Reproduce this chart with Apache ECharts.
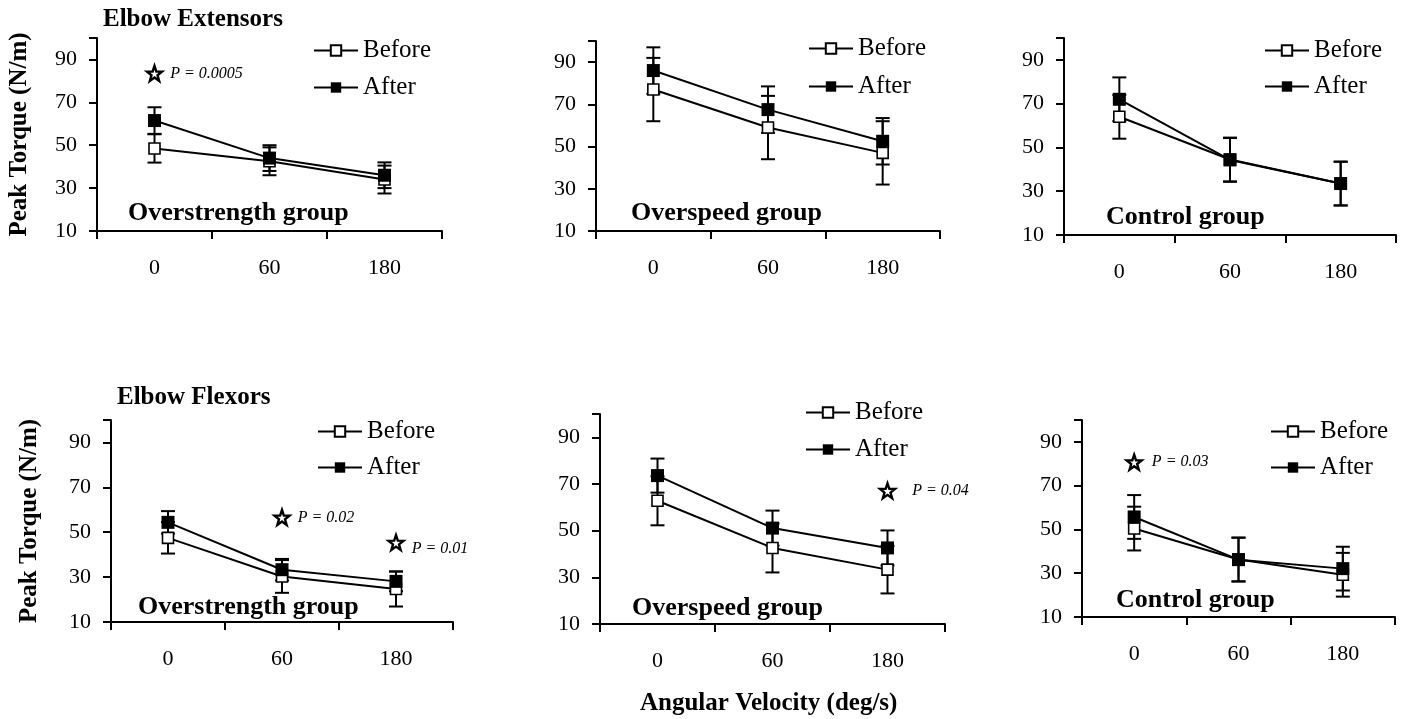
<!DOCTYPE html>
<html>
<head>
<meta charset="utf-8">
<script src="https://cdn.jsdelivr.net/npm/echarts@6/dist/echarts.min.js"></script>
<style>
html, body { margin: 0; padding: 0; background: #fff; }
#chart { width: 1406px; height: 719px; }
</style>
</head>
<body>
<div id="chart"></div>
<script>
var categories = ['0', '60', '180'];
var yTicks = [10, 30, 50, 70, 90];

// peak torque (N/m), mean and sd, per panel
var extStrBefore = [48.5, 42.5, 34], extStrBeforeSd = [6.6, 6.5, 6.5];
var extStrAfter = [61.5, 44, 36], extStrAfterSd = [6.2, 6, 6];
var extSpdBefore = [77, 59, 47], extSpdBeforeSd = [15, 15, 15];
var extSpdAfter = [86, 67.5, 52.5], extSpdAfterSd = [11, 11, 11];
var extCtlBefore = [64, 44.5, 33.5], extCtlBeforeSd = [10, 10, 10];
var extCtlAfter = [72, 44.3, 33.5], extCtlAfterSd = [10, 10, 10];
var flxStrBefore = [47.5, 30.3, 24.7], flxStrBeforeSd = [7, 7.3, 7.8];
var flxStrAfter = [54.4, 33.3, 28.1], flxStrAfterSd = [5, 4.8, 4.4];
var flxSpdBefore = [62.8, 42.6, 33.3], flxSpdBeforeSd = [10.5, 10.5, 10.2];
var flxSpdAfter = [73.6, 51.1, 42.6], flxSpdAfterSd = [7.3, 7.5, 7.5];
var flxCtlBefore = [50.4, 36.3, 29.3], flxCtlBeforeSd = [10, 10, 10];
var flxCtlAfter = [55.7, 36.2, 32.1], flxCtlAfterSd = [10, 10, 10];

var groupNames = ['Overstrength group', 'Overspeed group', 'Control group',
    'Overstrength group', 'Overspeed group', 'Control group'];

// significance notes: panel, category index, value, text
var notePanels = [0, 3, 3, 4, 5];
var noteCats = [0, 1, 2, 2, 0];
var noteValues = [83.5, 56.6, 45.4, 67.1, 80.7];
var noteTexts = ['P = 0.0005', 'P = 0.02', 'P = 0.01', 'P = 0.04', 'P = 0.03'];

var panels = [
    { before: extStrBefore, beforeSd: extStrBeforeSd, after: extStrAfter, afterSd: extStrAfterSd },
    { before: extSpdBefore, beforeSd: extSpdBeforeSd, after: extSpdAfter, afterSd: extSpdAfterSd },
    { before: extCtlBefore, beforeSd: extCtlBeforeSd, after: extCtlAfter, afterSd: extCtlAfterSd },
    { before: flxStrBefore, beforeSd: flxStrBeforeSd, after: flxStrAfter, afterSd: flxStrAfterSd },
    { before: flxSpdBefore, beforeSd: flxSpdBeforeSd, after: flxSpdAfter, afterSd: flxSpdAfterSd },
    { before: flxCtlBefore, beforeSd: flxCtlBeforeSd, after: flxCtlAfter, afterSd: flxCtlAfterSd }
];

// layout (pixels)
var grids = [
    { left: 97, top: 38, width: 345, height: 193 },
    { left: 596, top: 41, width: 344, height: 190 },
    { left: 1064, top: 38, width: 332, height: 197 },
    { left: 111, top: 420, width: 342, height: 202 },
    { left: 600, top: 414, width: 345, height: 210 },
    { left: 1082, top: 420, width: 313, height: 197 }
];
var legendPos = [[313, 38, 12], [808, 36, 13], [1264, 38, 11], [317, 419, 11], [805, 400, 12], [1270, 419, 11]];
var groupPos = [[128, 200], [631, 200], [1106, 204], [138, 594], [632, 595], [1116, 587]];
var noteLabel = [[7, [0, 0]], [7, [0, 0]], [7, [0, 6]], [16, [0, 0]], [9, [0, 0]]];

var FONT = '"Liberation Serif", "Times New Roman", serif';
var STAR = 'path://M50 0 L61.76 33.82 L97.55 34.55 L69.02 56.18 L79.39 90.45 L50 70 L20.61 90.45 L30.98 56.18 L2.45 34.55 L38.24 33.82 Z';

function errData( vals, sd ) {
    var out = [];
    for ( var i = 0; i < vals.length; i++ ) {
        out.push( [i, vals[i] - sd[i], vals[i] + sd[i]] );
    }
    return out;
}

function renderErr( params, api ) {
    var x = api.value( 0 );
    var lo = api.coord( [x, api.value( 1 )] );
    var hi = api.coord( [x, api.value( 2 )] );
    var w = 7;
    var st = { stroke: '#000', lineWidth: 2 };
    return {
        type: 'group',
        children: [
            { type: 'line', shape: { x1: lo[0], y1: lo[1], x2: hi[0], y2: hi[1] }, style: st },
            { type: 'line', shape: { x1: lo[0] - w, y1: lo[1], x2: lo[0] + w, y2: lo[1] }, style: st },
            { type: 'line', shape: { x1: hi[0] - w, y1: hi[1], x2: hi[0] + w, y2: hi[1] }, style: st }
        ]
    };
}

var option = {
    backgroundColor: '#fff',
    animation: false,
    textStyle: { fontFamily: FONT, color: '#000' },
    grid: [],
    xAxis: [],
    yAxis: [],
    legend: [],
    title: [],
    series: []
};

for ( var p = 0; p < panels.length; p++ ) {
    var g = grids[p];
    option.grid.push( { left: g.left, top: g.top, width: g.width, height: g.height, containLabel: false, outerBoundsMode: 'none' } );
    option.xAxis.push( {
        type: 'category',
        gridIndex: p,
        data: categories,
        boundaryGap: true,
        axisLine: { lineStyle: { color: '#000', width: 2 } },
        axisTick: { show: true, length: 8, lineStyle: { color: '#000', width: 2 } },
        axisLabel: { color: '#000', fontFamily: FONT, fontSize: 22, margin: 26 },
        splitLine: { show: false }
    } );
    var ya = {
        type: 'value',
        gridIndex: p,
        min: 10,
        max: 100,
        interval: 20,
        axisLine: { show: true, lineStyle: { color: '#000', width: 2 } },
        axisTick: { show: true, length: 8, lineStyle: { color: '#000', width: 2 } },
        axisLabel: {
            color: '#000', fontFamily: FONT, fontSize: 22, margin: 20,
            formatter: function ( v ) { return yTicks.indexOf( v ) >= 0 ? String( v ) : ''; }
        },
        splitLine: { show: false }
    };
    if ( p === 0 || p === 3 ) {
        ya.name = 'Peak Torque (N/m)';
        ya.nameLocation = 'middle';
        ya.nameRotate = 90;
        ya.nameGap = p === 0 ? 65 : 69;
        ya.nameTextStyle = { fontFamily: FONT, fontSize: 25, fontWeight: 'bold', color: '#000' };
    }
    option.yAxis.push( ya );

    option.legend.push( {
        data: ['Before', 'After'],
        orient: 'vertical',
        left: legendPos[p][0],
        top: legendPos[p][1],
        itemGap: legendPos[p][2],
        itemWidth: 44,
        itemHeight: 13,
        padding: 0,
        selectedMode: false,
        textStyle: { fontFamily: FONT, fontSize: 25, color: '#000' }
    } );

    option.title.push( {
        text: groupNames[p],
        left: groupPos[p][0],
        top: groupPos[p][1],
        padding: 0,
        textStyle: { fontFamily: FONT, fontSize: 26, fontWeight: 'bold', color: '#000' }
    } );

    option.series.push( {
        name: 'Before SD', type: 'custom', xAxisIndex: p, yAxisIndex: p,
        renderItem: renderErr, encode: { x: 0, y: [1, 2] }, z: 1,
        data: errData( panels[p].before, panels[p].beforeSd )
    } );
    option.series.push( {
        name: 'After SD', type: 'custom', xAxisIndex: p, yAxisIndex: p,
        renderItem: renderErr, encode: { x: 0, y: [1, 2] }, z: 1,
        data: errData( panels[p].after, panels[p].afterSd )
    } );
    option.series.push( {
        name: 'Before', type: 'line', xAxisIndex: p, yAxisIndex: p, z: 3,
        data: panels[p].before,
        symbol: 'rect', symbolSize: 11,
        lineStyle: { color: '#000', width: 2 },
        itemStyle: { color: '#fff', borderColor: '#000', borderWidth: 1.6 }
    } );
    var after = {
        name: 'After', type: 'line', xAxisIndex: p, yAxisIndex: p, z: 4,
        data: panels[p].after,
        symbol: 'rect', symbolSize: 13,
        lineStyle: { color: '#000', width: 2 },
        itemStyle: { color: '#000', borderColor: '#000', borderWidth: 0 },
        markPoint: { data: [] }
    };
    for ( var n = 0; n < notePanels.length; n++ ) {
        if ( notePanels[n] !== p ) continue;
        after.markPoint.data.push( {
            coord: [noteCats[n], noteValues[n]],
            symbol: STAR,
            symbolSize: 15,
            itemStyle: { color: '#fff', borderColor: '#000', borderWidth: 2.4 },
            label: {
                show: true, position: 'right', distance: noteLabel[n][0], offset: noteLabel[n][1],
                formatter: noteTexts[n], fontFamily: FONT, fontStyle: 'italic', fontSize: 16, color: '#000'
            }
        } );
    }
    option.series.push( after );
}

option.title.push( {
    text: 'Elbow Extensors', left: 103, top: 7, padding: 0,
    textStyle: { fontFamily: FONT, fontSize: 25, fontWeight: 'bold', color: '#000' }
} );
option.title.push( {
    text: 'Elbow Flexors', left: 117, top: 385, padding: 0,
    textStyle: { fontFamily: FONT, fontSize: 25, fontWeight: 'bold', color: '#000' }
} );
option.title.push( {
    text: 'Angular Velocity (deg/s)', left: 640, top: 691, padding: 0,
    textStyle: { fontFamily: FONT, fontSize: 25, fontWeight: 'bold', color: '#000' }
} );

var chart = echarts.init( document.getElementById( 'chart' ) );
chart.setOption( option );
</script>
</body>
</html>
